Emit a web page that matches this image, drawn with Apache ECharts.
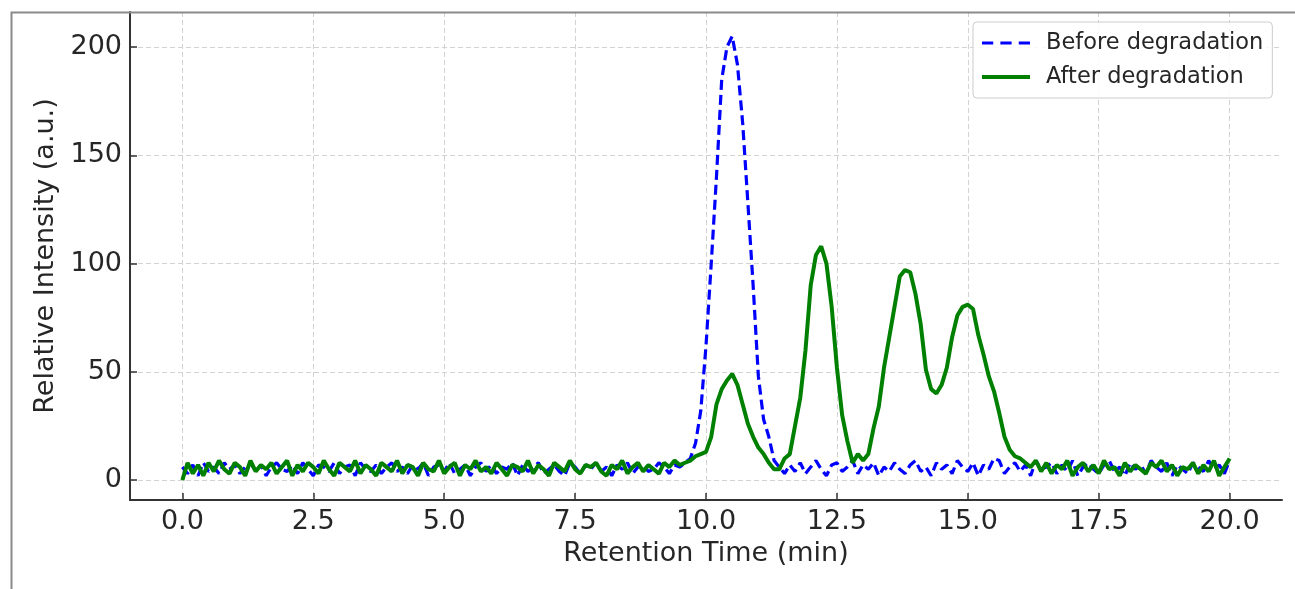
<!DOCTYPE html>
<html>
<head>
<meta charset="utf-8">
<script src="https://cdn.jsdelivr.net/npm/echarts@6/dist/echarts.min.js"></script>
<style>
html,body{margin:0;padding:0;background:#fff;}
#chart{width:1295px;height:589px;}
</style>
</head>
<body>
<div id="chart"></div>
<script>
// Retention time grid: 0.0 .. 20.0 min, 0.1 min step (201 samples)
const timeStart = 0.0;
const timeStep = 0.1;

// Before degradation (blue dashed)
const beforeValues = [
  6,3,7,2,8,4,6,3,8,5, 7,3,6,8,4,7,2,6,8,5, 4,7,3,8,5,2,7,6,4,8,
  3,6,7,2,8,5,4,7,3,6, 8,4,6,3,7,5,8,2,6,7, 4,8,3,5,7,2,6,8,4,7,
  3,6,5,8,2,7,4,6,8,3, 5,7,4,2,8,6,3,7,5,8, 4,6,2,7,5,8,3,6,7,4,
  5,8,6,3,7,
  6,8,10,17,32,62,100,140,185,200,205,192,165,128,90,48,28,20,9,6,3,
  7,4,8,3,6,9,5,2,7,8, 4,6,9,3,7,5,8,2,6,4, 8,5,3,7,9,4,6,2,8,5,
  7,3,9,6,4,8,2,7,5,10, 9,3,6,8,4,7,2,9,5,6, 8,3,7,4,9,2,6,8,5,3,
  7,9,4,6,2,8,5,7,3,9, 6,4,8,2,7,5,3,8,6,4, 9,5,7,3,9
];

// After degradation (green solid)
const afterValues = [
  0,8,3,7,2,8,4,9,5,3, 8,6,2,9,4,7,5,8,3,6, 9,2,7,4,8,6,3,9,5,2,
  8,6,4,9,3,7,5,2,8,6, 4,9,3,7,6,2,8,5,4,9, 3,6,8,2,7,5,9,4,6,3,
  8,5,2,7,6,4,9,3,7,5, 2,8,6,4,9,5,3,7,6,8, 4,2,7,5,9,3,6,8,4,7,
  5,3,8,6,9,7,8,
  9,11,12,13,20,35,42,46,49,44, 35,26,20,15,12,8,5,5,10,12,
  25,38,60,90,104,108,100,80,52,30, 18,8,12,9,12,24,34,52,66,80,
  94,97,96,86,72,51,42,40,44,52, 66,76,80,81,79,67,58,48,41,31,
  20,14,11,10,8,
  6,9,4,8,3,7,5,9,2,6, 8,4,7,3,9,5,6,2,8,4, 7,5,3,8,6,9,4,7,2,6,
  5,8,3,7,4,9,2,6,10
];

const seriesNames = ['Before degradation', 'After degradation'];
const xTicks = [0, 2.5, 5, 7.5, 10, 12.5, 15, 17.5, 20];
const yTicks = [0, 50, 100, 150, 200];
const xTitle = 'Retention Time (min)';
const yTitle = 'Relative Intensity (a.u.)';

const toPairs = vals => vals.map((v, i) => [Math.round((timeStart + i * timeStep) * 100) / 100, v]);

const FONT = 'DejaVu Sans';
const TXT = '#262626';
const AX = 27;

const dashIcon = 'path://M0,0h11v3h-11z M18,0h11v3h-11z M36,0h11v3h-11z';
const solidIcon = 'path://M0,0h48v4h-48z';

const chart = echarts.init(document.getElementById('chart'), null, {renderer: 'canvas'});
chart.setOption({
  animation: false,
  backgroundColor: '#ffffff',
  textStyle: {fontFamily: FONT},
  grid: {left: 130, right: 13, top: 12, bottom: 89, containLabel: false},
  xAxis: {
    type: 'value', min: -1, max: 21,
    name: xTitle, nameLocation: 'middle', nameGap: 40,
    nameTextStyle: {fontSize: AX, color: TXT, fontFamily: FONT},
    axisLine: {show: true, onZero: false, lineStyle: {color: '#333', width: 2}},
    axisTick: {show: true, inside: true, length: 7, customValues: xTicks, lineStyle: {color: '#333', width: 1.5}},
    axisLabel: {show: true, customValues: xTicks, margin: 8, fontSize: AX, color: TXT, fontFamily: FONT,
      formatter: v => v.toFixed(1)},
    splitLine: {show: true, lineStyle: {color: '#d2d2d2', type: [5, 3], width: 1}}
  },
  yAxis: {
    type: 'value', min: -9.2, max: 216.2,
    name: yTitle, nameLocation: 'middle', nameGap: 71,
    nameTextStyle: {fontSize: AX, color: TXT, fontFamily: FONT},
    axisLine: {show: true, onZero: false, lineStyle: {color: '#333', width: 2}},
    axisTick: {show: true, inside: true, length: 7, customValues: yTicks, lineStyle: {color: '#333', width: 1.5}},
    axisLabel: {show: true, customValues: yTicks, margin: 8, fontSize: AX, color: TXT, fontFamily: FONT,
      formatter: v => String(Math.round(v))},
    splitLine: {show: true, lineStyle: {color: '#d2d2d2', type: [5, 3], width: 1}}
  },
  legend: {
    orient: 'vertical', left: 973, top: 22,
    padding: [8, 9, 8, 9], itemGap: 8,
    itemWidth: 48, itemHeight: 4,
    backgroundColor: 'rgba(255,255,255,0.85)', borderColor: '#cccccc', borderWidth: 1, borderRadius: 4,
    textStyle: {fontSize: 22.5, color: TXT, fontFamily: FONT, lineHeight: 26, padding: [0, 0, 0, 11]},
    data: [
      {name: seriesNames[0], icon: dashIcon, itemStyle: {color: '#0000ff'}},
      {name: seriesNames[1], icon: solidIcon, itemStyle: {color: '#008000'}}
    ]
  },
  graphic: [{
    type: 'rect', left: 9, top: 10, silent: true, z: 100,
    shape: {width: 1400, height: 700},
    style: {fill: 'none', stroke: '#8a8a8a', lineWidth: 2}
  }],
  series: [
    {
      name: seriesNames[0], type: 'line', data: toPairs(beforeValues),
      showSymbol: false, symbol: 'none', smooth: false,
      lineStyle: {color: '#0000ff', width: 3.2, type: [10, 5]},
      itemStyle: {color: '#0000ff'}, z: 2
    },
    {
      name: seriesNames[1], type: 'line', data: toPairs(afterValues),
      showSymbol: false, symbol: 'none', smooth: false,
      lineStyle: {color: '#008000', width: 4, type: 'solid'},
      itemStyle: {color: '#008000'}, z: 3
    }
  ]
});
</script>
</body>
</html>
